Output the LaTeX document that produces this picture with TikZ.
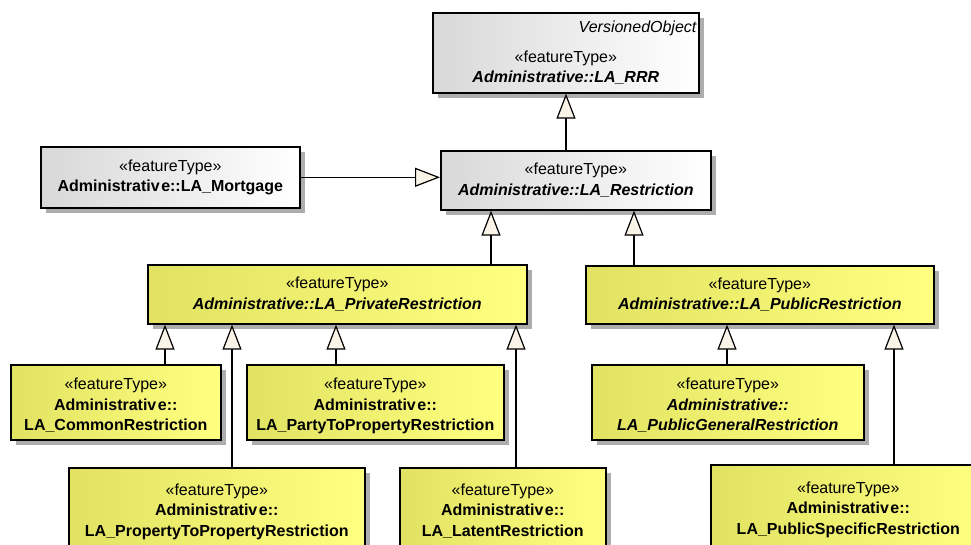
\documentclass[tikz,border=0pt]{standalone}
\usepackage{fontspec}
\setmainfont{Liberation Sans}
\usetikzlibrary{arrows.meta,shadows}

\definecolor{ylwL}{RGB}{226,226,98}
\definecolor{ylwR}{RGB}{255,255,128}
\definecolor{gryL}{RGB}{216,216,216}
\definecolor{gryR}{RGB}{255,255,255}
\definecolor{tipfill}{RGB}{250,243,232}
\newcommand{\adm}{Administrativ\kern1.5pt e::}

\begin{document}
\begin{tikzpicture}[x=1pt,y=-1pt,
  cls/.style={draw=black, line width=1.6pt, rectangle, anchor=north west,
    align=center, inner sep=0pt, font=\fontsize{16}{20.5}\selectfont,
    drop shadow={shadow xshift=5pt, shadow yshift=-5pt, fill=black!32, opacity=1}},
  ylw/.style={cls, left color=ylwL, right color=ylwR},
  gry/.style={cls, left color=gryL, right color=gryR},
  leaf/.style={ylw, text height=57pt, text depth=0pt},
  lbl/.style={align=center, inner sep=0pt, font=\fontsize{16}{20}\selectfont},
  gen/.style={line width=1.6pt,
    -{Triangle[length=25pt, width=19pt, fill=tipfill, line width=1.2pt]}}
]
\fill[white] (0,0) rectangle (971,544);
\path[use as bounding box] (0,0) rectangle (971,544);
\clip (0,0) rectangle (971,544);

% abstract root with tagged value
\node[gry, minimum width=266pt, minimum height=80pt] (rrr) at (432,12) {};
\node[lbl, anchor=north east, font=\fontsize{16}{20}\selectfont\itshape]
  (rrrtag) at ([xshift=-3pt,yshift=-9pt]rrr.north east) {VersionedObject};
\node[lbl] (rrrname) at ([yshift=-15pt]rrr.center)
  {«featureType»\\\textbf{\textit{Administrative::LA\_RRR}}};

% second level
\node[gry, minimum width=259pt, minimum height=61pt] (mortgage) at (40,146)
  {«featureType»\\\textbf{\adm LA\_Mortgage}};
\node[gry, minimum width=270pt, minimum height=59pt] (restriction) at (440,150)
  {«featureType»\\\textbf{\textit{Administrative::LA\_Restriction}}};

% third level
\node[ylw, minimum width=379pt, minimum height=59pt] (private) at (147,264)
  {«featureType»\\\textbf{\textit{Administrative::LA\_PrivateRestriction}}};
\node[ylw, minimum width=348pt, minimum height=58pt] (public) at (585,265)
  {«featureType»\\\textbf{\textit{Administrative::LA\_PublicRestriction}}};

% leaves
\node[leaf, minimum width=210pt, minimum height=75pt] (common) at (10,364)
  {«featureType»\\\textbf{\adm}\\\textbf{LA\_CommonRestriction}};
\node[leaf, minimum width=257pt, minimum height=75pt] (party) at (246,364)
  {«featureType»\\\textbf{\adm}\\\textbf{LA\_PartyToPropertyRestriction}};
\node[leaf, minimum width=296pt, minimum height=80pt] (prop) at (68,467)
  {«featureType»\\\textbf{\adm}\\\textbf{LA\_PropertyToPropertyRestriction}};
\node[leaf, minimum width=206pt, minimum height=80pt] (latent) at (399,467)
  {«featureType»\\\textbf{\adm}\\\textbf{LA\_LatentRestriction}};
\node[leaf, minimum width=272pt, minimum height=75pt] (pubgen) at (591,364)
  {«featureType»\\\textbf{\textit{Administrative::}}\\\textbf{\textit{LA\_PublicGeneralRestriction}}};
\node[leaf, minimum width=275pt, minimum height=82pt] (pubspec) at (710,464)
  {«featureType»\\\textbf{\adm}\\\textbf{LA\_PublicSpecificRestriction}};

% generalization connectors
\coordinate (sRes)  at ([xshift=126pt]restriction.north west);
\coordinate (sPriv) at ([xshift=344pt]private.north west);
\coordinate (sPub)  at ([xshift=49pt]public.north west);
\coordinate (sCom)  at ([xshift=155pt]common.north west);
\coordinate (sProp) at ([xshift=164pt]prop.north west);
\coordinate (sPar)  at ([xshift=90pt]party.north west);
\coordinate (sLat)  at ([xshift=117pt]latent.north west);
\coordinate (sGen)  at ([xshift=136pt]pubgen.north west);
\coordinate (sSpec) at ([xshift=184pt]pubspec.north west);

\draw[gen] (sRes) -- (sRes |- rrr.south);
\draw[gen] (mortgage.east) -- (mortgage.east -| restriction.west);
\draw[gen] (sPriv) -- (sPriv |- restriction.south);
\draw[gen] (sPub) -- (sPub |- restriction.south);
\draw[gen] (sCom) -- (sCom |- private.south);
\draw[gen] (sProp) -- (sProp |- private.south);
\draw[gen] (sPar) -- (sPar |- private.south);
\draw[gen] (sLat) -- (sLat |- private.south);
\draw[gen] (sGen) -- (sGen |- public.south);
\draw[gen] (sSpec) -- (sSpec |- public.south);
\end{tikzpicture}
\end{document}
